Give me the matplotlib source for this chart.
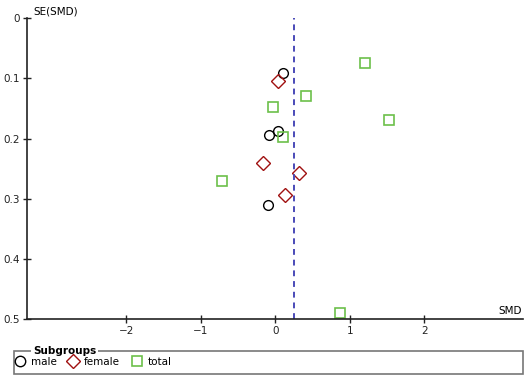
import matplotlib
matplotlib.use("Agg")
import matplotlib.pyplot as plt
from matplotlib.lines import Line2D
from matplotlib.patches import Rectangle

# funnel plot values
male_smd = [0.107, 0.032, -0.081, -0.102]
male_se = [0.092, 0.187, 0.194, 0.311]
female_smd = [0.032, -0.169, 0.322, 0.130]
female_se = [0.105, 0.241, 0.257, 0.294]
total_smd = [1.204, 0.408, -0.035, 1.526, 0.107, -0.715, 0.868]
total_se = [0.074, 0.130, 0.147, 0.170, 0.198, 0.271, 0.489]
pooled = 0.251
xticks = [-2, -1, 0, 1, 2]
yticks = [0, 0.1, 0.2, 0.3, 0.4, 0.5]

plt.rcParams['font.family'] = ['DejaVu Sans']
fs = 7.5
red = '#a01010'
green = '#6cc04a'

fig = plt.figure(figsize=(5.29, 3.79), dpi=100)
ax = fig.add_axes([0.051, 0.1575, 0.937, 0.795])

ax.plot(male_smd, male_se, 'o', ms=7, mfc='none', mec='black', mew=1.0)
ax.plot(female_smd, female_se, 'D', ms=7, mfc='none', mec=red, mew=1.0)
ax.plot(total_smd, total_se, 's', ms=6.5, mfc='none', mec=green, mew=1.2)
ax.axvline(pooled, color='#4a4ab8', ls=(0, (3, 2.5)), lw=1.4)

ax.set_xlim(-3.33, 3.32)
ax.set_ylim(0.5, 0)
ax.set_xticks(xticks)
ax.set_xticklabels(['\u22122', '\u22121', '0', '1', '2'])
ax.set_yticks(yticks)
ax.set_yticklabels(['0', '0.1', '0.2', '0.3', '0.4', '0.5'])
ax.tick_params(direction='inout', length=6, width=1, labelsize=fs, pad=2, colors='#222222')
for s in ['top', 'right']:
    ax.spines[s].set_visible(False)
for s in ['left', 'bottom']:
    ax.spines[s].set_linewidth(1.2)
    ax.spines[s].set_color('#222222')

fig.text(33 / 529, 1 - 12 / 379, 'SE(SMD)', fontsize=fs, va='center', ha='left')
fig.text(522 / 529, 1 - 311 / 379, 'SMD', fontsize=fs, va='center', ha='right')

# legend box
fig.add_artist(Rectangle((13.5 / 529, 1 - 373.5 / 379), (522.5 - 13.5) / 529, 23 / 379,
                         transform=fig.transFigure, fill=False, ec='#777777', lw=1.2))
fig.text(33 / 529, 1 - 350.5 / 379, 'Subgroups', fontsize=fs, fontweight='bold',
         va='center', ha='left', bbox=dict(fc='white', ec='none', pad=1.5))
handles = [
    Line2D([], [], ls='none', marker='o', ms=7.5, mfc='none', mec='black', mew=1.0),
    Line2D([], [], ls='none', marker='D', ms=7.5, mfc='none', mec=red, mew=1.0),
    Line2D([], [], ls='none', marker='s', ms=7, mfc='none', mec=green, mew=1.2),
]
fig.legend(handles, ['male', 'female', 'total'], loc='center left',
           bbox_to_anchor=(15 / 529, 1 - 362 / 379), ncol=3, frameon=False,
           fontsize=fs, handlelength=0.9, handletextpad=0.6, columnspacing=1.15,
           borderaxespad=0, borderpad=0)

fig.savefig('out.png', dpi=100)
